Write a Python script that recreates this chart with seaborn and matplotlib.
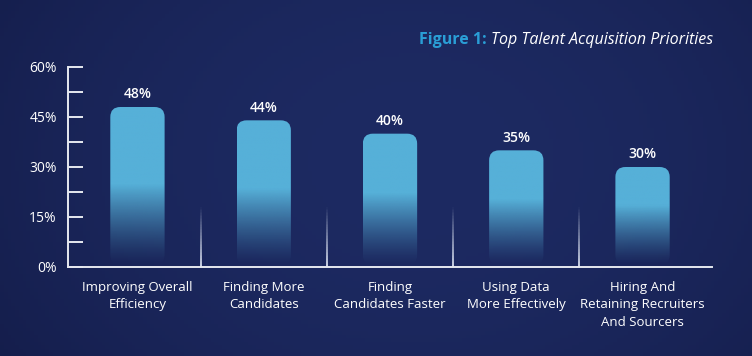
import numpy as np
import pandas as pd
import matplotlib
matplotlib.use("Agg")
import matplotlib.pyplot as plt
import seaborn as sns
from matplotlib.patches import FancyBboxPatch
from matplotlib.colors import to_rgb
from matplotlib.collections import LineCollection

# ---- data ----
categories = ["Improving Overall\nEfficiency", "Finding More\nCandidates",
              "Finding\nCandidates Faster", "Using Data\nMore Effectively",
              "Hiring And\nRetaining Recruiters\nAnd Sourcers"]
values = [48, 44, 40, 35, 30]
ytick_values = [0, 15, 30, 45, 60]
ytick_minor = [7.5, 22.5, 37.5, 52.5]
title_lead = "Figure 1:"
title_text = "Top Talent Acquisition Priorities"

# ---- style ----
bar_color = "#56b0d8"
accent = "#2a9ed6"
bg_dark = np.array(to_rgb("#121a45"))
bg_light = np.array(to_rgb("#1d2a62"))

sns.set_theme(style="white")
plt.rcParams["font.family"] = ["Open Sans", "DejaVu Sans"]

fig = plt.figure(figsize=(7.52, 3.56), dpi=100)

# background gradient
bgax = fig.add_axes([0, 0, 1, 1], zorder=-1)
xx, yy = np.meshgrid(np.linspace(0, 1, 200), np.linspace(0, 1, 100))
w = np.clip(1 - ((xx - 0.55) / 0.75) ** 2 - ((yy - 0.55) / 1.2) ** 2, 0, 1)
bg = bg_dark + (bg_light - bg_dark) * w[..., None]
bgax.imshow(bg, extent=[0, 1, 0, 1], aspect="auto", origin="lower")
bgax.axis("off")

ax = fig.add_axes([68 / 752, 89 / 356, 644 / 752, 200 / 356])
ax.patch.set_alpha(0)

df = pd.DataFrame({"category": categories, "value": values})
sns.barplot(data=df, x="category", y="value", ax=ax, color=bar_color, width=0.43)

xlim = (-0.55, 4.55)
ylim = (0, 60)
rx = 10 / 126
ry = 10 * 60 / 200
rgb = np.array(to_rgb(bar_color))

for p in list(ax.patches):
    x0, bw, h = p.get_x(), p.get_width(), p.get_height()
    p.set_visible(False)
    base = 0.6
    fade_top = 8 + 0.35 * h
    ys = np.linspace(base, h, 300)
    t = np.clip((ys - base) / (fade_top - base), 0, 1)
    alpha = t ** 1.3
    img = np.zeros((300, 1, 4))
    img[:, 0, :3] = rgb
    img[:, 0, 3] = alpha
    im = ax.imshow(img, extent=[x0, x0 + bw, base, h], aspect="auto",
                   origin="lower", zorder=2)
    clip = FancyBboxPatch((x0, base), bw, h - base,
                          boxstyle=f"round,pad=0,rounding_size={rx}",
                          mutation_aspect=ry / rx, transform=ax.transData,
                          facecolor="none", edgecolor="none")
    ax.add_patch(clip)
    im.set_clip_path(clip)
    ax.annotate(f"{h:.0f}%", (x0 + bw / 2, h), xytext=(0, 4),
                textcoords="offset points", ha="center", va="bottom",
                color="white", fontsize=10, fontweight="semibold")

# faded separators between categories
for xs in np.arange(0.5, 4.5, 1.0):
    yv = np.linspace(0, 18, 40)
    segs = [[(xs, yv[i]), (xs, yv[i + 1])] for i in range(len(yv) - 1)]
    cols = [(0.85, 0.88, 0.94, 1 - i / (len(yv) - 1)) for i in range(len(yv) - 1)]
    ax.add_collection(LineCollection(segs, colors=cols, linewidths=1.3, zorder=1))

ax.set_xlim(*xlim)
ax.set_ylim(*ylim)
ax.set_xlabel("")
ax.set_ylabel("")

ax.set_yticks(ytick_values)
ax.set_yticklabels([f"{t}%" for t in ytick_values])
ax.set_yticks(ytick_minor, minor=True)
ax.tick_params(axis="y", which="both", direction="in", length=11, width=1.4,
               color="#e6e9f0", labelcolor="white", labelsize=10, pad=8, left=True)
ax.tick_params(axis="x", length=0, pad=10, labelsize=9.5, labelcolor="white")
for lab in ax.get_xticklabels():
    lab.set_linespacing(1.45)
    lab.set_va("top")

for side in ["top", "right"]:
    ax.spines[side].set_visible(False)
for side in ["left", "bottom"]:
    ax.spines[side].set_color("#e6e9f0")
    ax.spines[side].set_linewidth(1.4)

# title: colored lead + italic text
renderer = fig.canvas.get_renderer()
t2 = fig.text(713 / 752, 1 - 40 / 356, title_text, ha="right", va="center",
              color="white", fontsize=11.5, style="italic")
bb = t2.get_window_extent(renderer=renderer)
fig.text((bb.x0 - 4) / 752, 1 - 40 / 356, title_lead, ha="right", va="center",
         color=accent, fontsize=11.5, fontweight="bold")

fig.savefig("out.png", dpi=100)
